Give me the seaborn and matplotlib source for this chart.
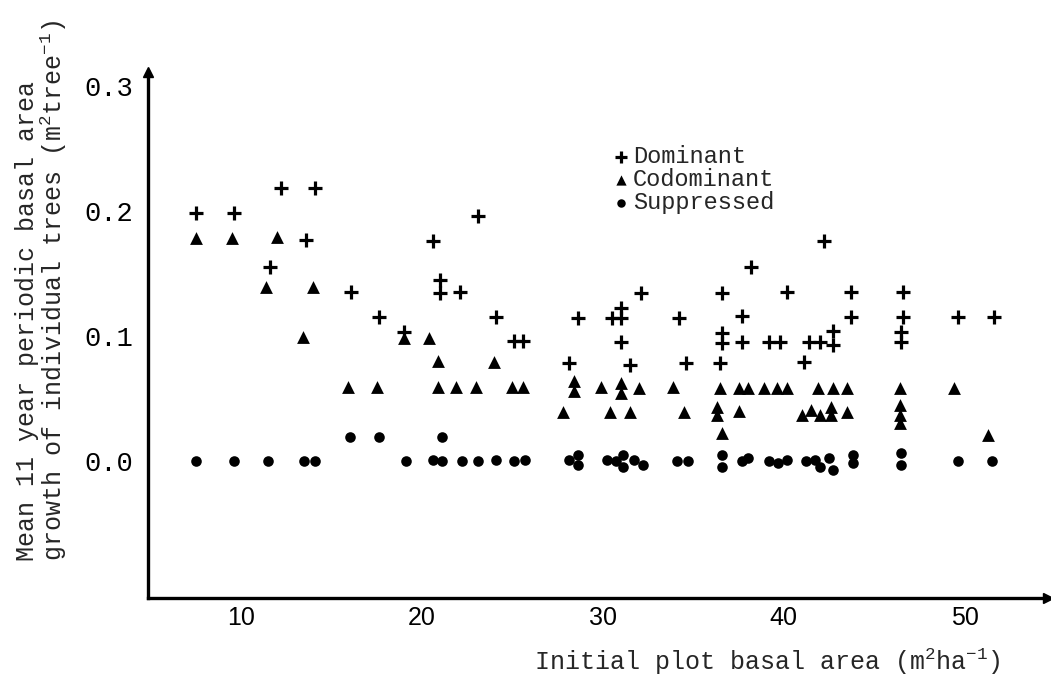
import matplotlib
matplotlib.use("Agg")
import matplotlib.pyplot as plt
import seaborn as sns
import pandas as pd

# ---- data ----
dom_x = [7.5, 9.6, 12.2, 14.1, 11.6, 13.6, 16.1, 17.6, 19.0, 20.6, 21.0, 21.0, 22.1,
         23.1, 24.1, 25.1, 25.6, 28.1, 28.6, 30.5, 31.0, 31.0, 31.0, 31.5, 32.1, 34.2,
         34.6, 36.6, 36.6, 36.6, 36.5, 37.7, 37.7, 38.2, 39.2, 39.8, 40.2, 41.1, 41.4,
         42.0, 42.2, 42.7, 42.7, 43.7, 43.7, 46.6, 46.6, 46.5, 46.5, 49.6, 51.6]
dom_y = [0.198, 0.198, 0.218, 0.218, 0.155, 0.177, 0.135, 0.115, 0.103, 0.176, 0.145,
         0.134, 0.135, 0.196, 0.115, 0.096, 0.096, 0.078, 0.114, 0.114, 0.122, 0.114,
         0.095, 0.077, 0.134, 0.114, 0.078, 0.134, 0.102, 0.094, 0.078, 0.116, 0.095,
         0.155, 0.095, 0.095, 0.135, 0.079, 0.095, 0.095, 0.176, 0.104, 0.093, 0.135,
         0.115, 0.135, 0.115, 0.103, 0.095, 0.115, 0.115]

cod_x = [7.5, 9.5, 12.0, 11.4, 14.0, 13.4, 19.0, 20.4, 20.9, 15.9, 17.5, 20.9, 24.0,
         21.9, 23.0, 25.0, 25.6, 28.4, 28.4, 27.8, 29.9, 31.0, 31.0, 32.0, 30.4, 31.5,
         33.9, 34.5, 36.5, 37.5, 36.3, 36.3, 36.6, 37.5, 38.0, 38.9, 39.6, 40.2, 41.9,
         42.7, 43.5, 41.0, 41.5, 42.0, 42.6, 42.6, 43.5, 46.4, 46.4, 46.4, 46.4, 49.4,
         51.3]
cod_y = [0.178, 0.178, 0.179, 0.139, 0.139, 0.099, 0.098, 0.098, 0.080, 0.059, 0.059,
         0.059, 0.079, 0.059, 0.059, 0.059, 0.059, 0.064, 0.056, 0.039, 0.059, 0.062,
         0.054, 0.058, 0.039, 0.039, 0.059, 0.039, 0.058, 0.058, 0.043, 0.037, 0.022,
         0.040, 0.058, 0.058, 0.058, 0.058, 0.058, 0.058, 0.058, 0.037, 0.041, 0.037,
         0.043, 0.037, 0.039, 0.058, 0.045, 0.037, 0.030, 0.058, 0.021]

sup_x = [7.5, 9.6, 11.5, 13.5, 14.1, 16.0, 17.6, 21.1, 19.1, 20.6, 21.1, 22.2, 23.1,
         24.1, 25.1, 25.7, 28.1, 28.6, 28.6, 30.2, 30.7, 31.1, 31.1, 31.7, 32.2, 34.1,
         34.7, 36.6, 36.6, 37.7, 38.0, 39.2, 39.7, 40.2, 41.2, 41.7, 42.0, 42.5, 42.7,
         43.8, 43.8, 46.5, 46.5, 49.6, 51.5]
sup_y = [0.0, 0.0, 0.0, 0.0, 0.0, 0.019, 0.019, 0.019, 0.0, 0.001, 0.0, 0.0, 0.0,
         0.001, 0.0, 0.001, 0.001, 0.005, -0.003, 0.001, 0.0, 0.005, -0.005, 0.001,
         -0.003, 0.0, 0.0, 0.005, -0.005, 0.0, 0.002, 0.0, -0.002, 0.001, 0.0, 0.001,
         -0.005, 0.002, -0.007, 0.005, -0.002, 0.006, -0.003, 0.0, 0.0]

class_names = ["Dominant", "Codominant", "Suppressed"]
x_ticks = [10, 20, 30, 40, 50]
y_ticks = [0.0, 0.1, 0.2, 0.3]
x_title = "Initial plot basal area (m$^2$ha$^{-1}$)"
y_title = ("Mean 11 year periodic basal area\n"
           "growth of individual trees (m$^2$tree$^{-1}$)")

# ---- styling ----
sns.set_style("white")
MONO = ["Liberation Mono", "DejaVu Sans Mono"]
plt.rcParams["font.family"] = MONO
plt.rcParams["mathtext.fontset"] = "custom"
plt.rcParams["mathtext.rm"] = "Liberation Mono"
plt.rcParams["mathtext.it"] = "Liberation Mono"
FS = 18

fig = plt.figure(figsize=(10.51, 6.83), dpi=100)
ax = fig.add_axes([148 / 1051, 1 - 598 / 683, 900 / 1051, (598 - 72) / 683])

frames = {
    "Dominant": pd.DataFrame({"x": dom_x, "y": dom_y}),
    "Codominant": pd.DataFrame({"x": cod_x, "y": cod_y}),
    "Suppressed": pd.DataFrame({"x": sup_x, "y": sup_y}),
}
styles = {
    "Dominant": dict(marker="+", s=105, linewidth=2.3, color="black"),
    "Codominant": dict(marker="^", s=85, linewidth=0, color="black"),
    "Suppressed": dict(marker="o", s=58, linewidth=0, color="black"),
}
for name in class_names:
    sns.scatterplot(data=frames[name], x="x", y="y", ax=ax, label=name,
                    legend=False, **styles[name])

ax.set_xlim(4.86, 54.6)
ax.set_ylim(-0.1096, 0.311)

for s in ["top", "right"]:
    ax.spines[s].set_visible(False)
for s in ["left", "bottom"]:
    ax.spines[s].set_linewidth(2.4)
    ax.spines[s].set_color("black")

ax.plot(1, 0, ">", color="black", ms=7, transform=ax.transAxes, clip_on=False)
ax.plot(0, 1, "^", color="black", ms=7, transform=ax.transAxes, clip_on=False)

ax.set_xticks(x_ticks)
ax.set_xticklabels([str(t) for t in x_ticks], family="Liberation Sans", fontsize=FS)
ax.set_yticks(y_ticks)
ax.set_yticklabels([f"{t:.1f}" for t in y_ticks], fontsize=19.5)
ax.tick_params(axis="x", direction="out", length=4, width=2, pad=2, colors="black")
ax.tick_params(axis="y", direction="out", length=7, width=2, pad=4, colors="black")
ax.set_xlabel("")
ax.set_ylabel("")

fig.text(42 / 1051, 1 - 290 / 683, y_title, rotation=90, ha="center", va="center",
         multialignment="left", fontsize=FS, linespacing=1.0)
fig.text(1000 / 1051, 1 - 662 / 683, x_title, ha="right", va="center", fontsize=FS)

handles, labels = ax.get_legend_handles_labels()
ax.legend(handles, labels, loc="upper left", bbox_to_anchor=(614 / 1051, 1 - 145 / 683),
          bbox_transform=fig.transFigure, frameon=False, fontsize=17,
          handlelength=0.6, handletextpad=0.2, borderpad=0, borderaxespad=0,
          labelspacing=0.0, markerscale=0.8)

fig.savefig("out.png", dpi=100, facecolor="white")
